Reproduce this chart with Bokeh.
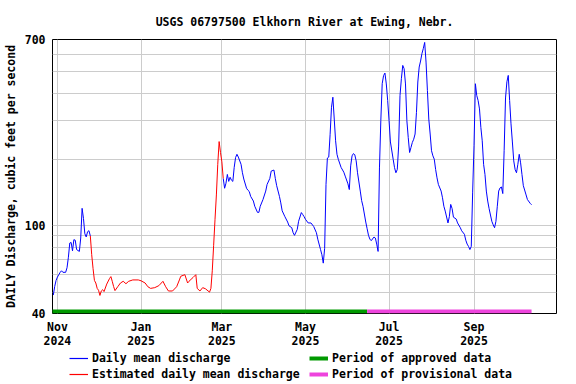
import pandas as pd
from bokeh.plotting import figure
from bokeh.layouts import column
from bokeh.models import Range1d, FixedTicker, Legend, LegendItem
from bokeh.embed import file_html
from bokeh.resources import INLINE

# ---------------- data ----------------
BASE_DATE = "2024-11-01"   # day offsets below are relative to this date

# Daily mean discharge (approved), first part
blue1_day = [-3, -2, -1, 0, 1, 2, 3, 4, 6, 7, 8, 9, 10, 11, 12, 13, 14, 16, 17, 18,
             19, 20, 21, 22, 23, 24]
blue1_cfs = [48.5, 53, 56.5, 58.5, 60, 61.5, 62.5, 61.5, 61.5, 64.5, 72, 83.5, 84, 77,
             86.5, 86, 78, 76.5, 88, 120, 108, 92, 89, 94, 95, 90]

# Estimated daily mean discharge
red_day = [24, 25, 26, 27, 28, 29, 30, 31, 32, 33, 34, 36, 38, 39, 40, 41, 42, 44, 46,
           48, 50, 52, 55, 59, 61, 64, 66, 68, 71, 74, 77, 79, 81, 84, 87, 89, 90, 93,
           95, 96, 99, 101, 102, 104, 106, 108, 111, 112, 113, 114, 115, 116, 117, 118,
           119, 120, 121]
red_cfs = [90, 74, 64, 56.5, 55, 52, 51, 48.3, 50.6, 51.3, 50.3, 54.4, 57.6, 58.8, 56,
           53, 50.8, 52.9, 55, 56, 54.6, 56, 56.8, 56.8, 56.3, 55, 52.9, 52, 52.4, 53.5,
           56, 52.9, 50.6, 50.6, 52.9, 56.8, 59, 60, 55, 56, 58.3, 60, 52, 50.6, 52.4,
           51.8, 50, 52, 62.5, 81.6, 107, 138, 190, 241, 215, 195, 164]

# Daily mean discharge, second part
blue2_day = [121, 122, 123, 124, 125, 126, 127, 128, 129, 130, 131, 132, 134, 135, 136,
             138, 139, 140, 141, 143, 144, 146, 147, 148, 150, 152, 153, 155, 156, 158,
             159, 160, 162, 163, 164, 166, 168, 169, 171, 172, 173, 175, 176, 178, 179,
             180, 181, 183, 185, 187, 189, 190, 192, 193, 194, 195, 196, 197, 198, 199,
             200, 201, 202, 203, 204, 205, 207, 209, 210, 212, 213, 214, 215, 216, 217,
             218, 219, 221, 222, 223, 225, 226, 227, 228, 229, 231, 232, 233, 234, 235,
             236, 237, 238, 239, 240, 241, 242, 243, 245, 246, 247, 248, 249, 250, 251,
             252, 253, 254, 255, 256, 257, 258, 259, 260, 261, 262, 263, 264, 265, 266,
             267, 268, 269, 270, 271, 272, 273, 274, 275, 276, 277, 278, 280, 281, 282,
             283, 285, 286, 287, 288, 289, 291, 292, 294, 295, 297, 298, 299, 300, 301,
             302, 303, 304, 305, 306, 307, 308, 309, 310, 311, 312, 313, 314, 315, 317,
             318, 319, 320, 321, 322, 323, 324, 325, 326, 327, 328, 329, 330, 331, 332,
             333, 334, 335, 336, 337, 338, 339, 340, 342, 343, 345, 346]
blue2_cfs = [164, 148, 156, 171, 159, 166, 161, 159, 184, 204, 211, 205, 190, 174, 163,
             148, 145, 143, 136, 129.5, 122.6, 115, 115, 122.6, 131.5, 143.7, 154, 164,
             177, 179, 164, 152, 136, 127, 117, 110, 104, 100, 98, 93, 90.5, 96.3, 104.8,
             114.8, 112.5, 110, 107, 103, 103, 99.3, 93, 86.9, 78, 73.9, 67.7, 79, 154,
             203, 205, 260, 345, 383, 305, 243, 211, 200, 184, 175, 168, 155, 146, 187,
             207.6, 212.6, 210, 197, 174, 143.7, 130, 122.6, 104, 97, 90.5, 87, 85.6,
             88.9, 88, 82.6, 76.5, 183, 300, 441, 480, 493, 440, 370, 300, 240, 200.5,
             183.6, 174, 180, 230, 390, 465, 534, 516, 440, 300, 251.7, 215, 226.6, 238.8,
             247, 260.8, 327, 449, 525, 559, 604, 637, 679, 553, 411, 305, 260.8, 219,
             207.6, 200.5, 180, 165, 154, 143.7, 134, 122.6, 116.6, 103, 110, 125, 119.7,
             109.4, 107.3, 103, 98, 94.9, 91.5, 86, 82.6, 80.6, 78, 80.6, 141, 230.6, 441,
             390, 370, 339, 279.5, 243, 190, 171, 143.7, 129.5, 119.7, 104.8, 101, 98,
             104.8, 122.6, 143.7, 148.5, 150, 140, 220, 380, 450, 481, 370, 290, 240, 197,
             180, 174, 190, 211, 193, 171, 152, 138, 131.5, 126.4, 124.6]

approved_period = ["2024-10-01", "2025-06-15"]
provisional_period = ["2025-06-15", "2025-10-13"]

tick_dates = ["2024-11-01", "2025-01-01", "2025-03-01", "2025-05-01", "2025-07-01",
              "2025-09-01"]
tick_labels = ["Nov\n2024", "Jan\n2025", "Mar\n2025", "May\n2025", "Jul\n2025",
               "Sep\n2025"]

y_ticks = [40, 100, 700]
y_grid = [50, 60, 70, 80, 90, 100, 200, 300, 400, 500, 600]

title_text = "USGS 06797500 Elkhorn River at Ewing, Nebr."
y_label = "DAILY Discharge, cubic feet per second"
legend_labels = ["Daily mean discharge", "Estimated daily mean discharge",
                 "Period of approved data", "Period of provisional data"]

# ---------------- helpers / styles ----------------
base = pd.Timestamp(BASE_DATE)


def to_day(s):
    return (pd.Timestamp(s) - base).days


FONT = "DejaVu Sans Mono"
FSIZE = "11.5px"
BAR_Y = 40.85
C_BLUE, C_RED, C_GREEN, C_PINK = "#0000ff", "#ff0000", "#009900", "#ee44dd"

# ---------------- main chart ----------------
p = figure(width=576, height=350, output_backend="svg", toolbar_location=None,
           y_axis_type="log", x_range=Range1d(-3.6, 364.2), y_range=Range1d(40, 700))
p.min_border_left = 51
p.min_border_right = 20
p.min_border_top = 39
p.min_border_bottom = 10

p.title.text = title_text
p.title.align = "center"
p.title.text_font = FONT
p.title.text_font_style = "bold"
p.title.text_font_size = FSIZE
p.title.text_color = "black"
p.title.standoff = 21

p.outline_line_color = "black"
p.outline_line_width = 1

tick_pos = [to_day(d) for d in tick_dates]
p.xaxis.ticker = FixedTicker(ticks=tick_pos)
p.xaxis.major_label_overrides = {t: l for t, l in zip(tick_pos, tick_labels)}
p.yaxis.ticker = FixedTicker(ticks=y_ticks)
p.yaxis.major_label_overrides = {t: str(t) for t in y_ticks}
for ax in (p.xaxis[0], p.yaxis[0]):
    ax.axis_line_color = None
    ax.major_tick_line_color = None
    ax.minor_tick_line_color = None
    ax.major_tick_out = 0
    ax.minor_tick_out = 0
    ax.major_label_text_font = FONT
    ax.major_label_text_font_style = "bold"
    ax.major_label_text_font_size = FSIZE
    ax.major_label_text_color = "black"
p.xaxis.major_label_text_line_height = 1.0
p.xaxis.major_label_standoff = 6
p.yaxis.major_label_standoff = 7
p.yaxis.axis_label = y_label
p.yaxis.axis_label_text_font = FONT
p.yaxis.axis_label_text_font_style = "bold"
p.yaxis.axis_label_text_font_size = FSIZE
p.yaxis.axis_label_text_color = "black"
p.yaxis.axis_label_standoff = 4

p.xgrid.grid_line_color = "#cccccc"
p.ygrid.grid_line_color = "#cccccc"
p.ygrid.ticker = FixedTicker(ticks=y_grid)

p.line(blue1_day, blue1_cfs, line_color=C_BLUE, line_width=1)
p.line(blue2_day, blue2_cfs, line_color=C_BLUE, line_width=1)
p.line(red_day, red_cfs, line_color=C_RED, line_width=1)
p.line([to_day(d) for d in approved_period], [BAR_Y, BAR_Y], line_color=C_GREEN,
       line_width=4)
p.line([to_day(d) for d in provisional_period], [BAR_Y, BAR_Y], line_color=C_PINK,
       line_width=4)

# ---------------- legend strip ----------------
q = figure(width=576, height=34, output_backend="svg", toolbar_location=None,
           x_axis_location=None, y_axis_location=None,
           x_range=Range1d(0, 1), y_range=Range1d(0, 1))
q.min_border = 0
q.outline_line_color = None
q.grid.visible = False
NAN = float("nan")
lb = q.line([NAN], [NAN], line_color=C_BLUE, line_width=1.2)
lr = q.line([NAN], [NAN], line_color=C_RED, line_width=1.2)
lg = q.line([NAN], [NAN], line_color=C_GREEN, line_width=4)
lp = q.line([NAN], [NAN], line_color=C_PINK, line_width=4)

legend = Legend(items=[LegendItem(label=t, renderers=[rr])
                       for t, rr in zip(legend_labels, [lb, lr, lg, lp])],
                nrows=2, orientation="vertical")
legend.label_text_font = FONT
legend.label_text_font_style = "bold"
legend.label_text_font_size = FSIZE
legend.label_text_color = "black"
legend.label_height = 12
legend.label_width = 215
legend.glyph_height = 12
legend.glyph_width = 19
legend.label_standoff = 4
legend.spacing = 2
legend.padding = 0
legend.margin = 0
legend.border_line_alpha = 0
legend.background_fill_alpha = 0
legend.location = (17, 3)
q.add_layout(legend)

layout = column(p, q, spacing=0)
open("out.html", "w").write(file_html(layout, INLINE))
